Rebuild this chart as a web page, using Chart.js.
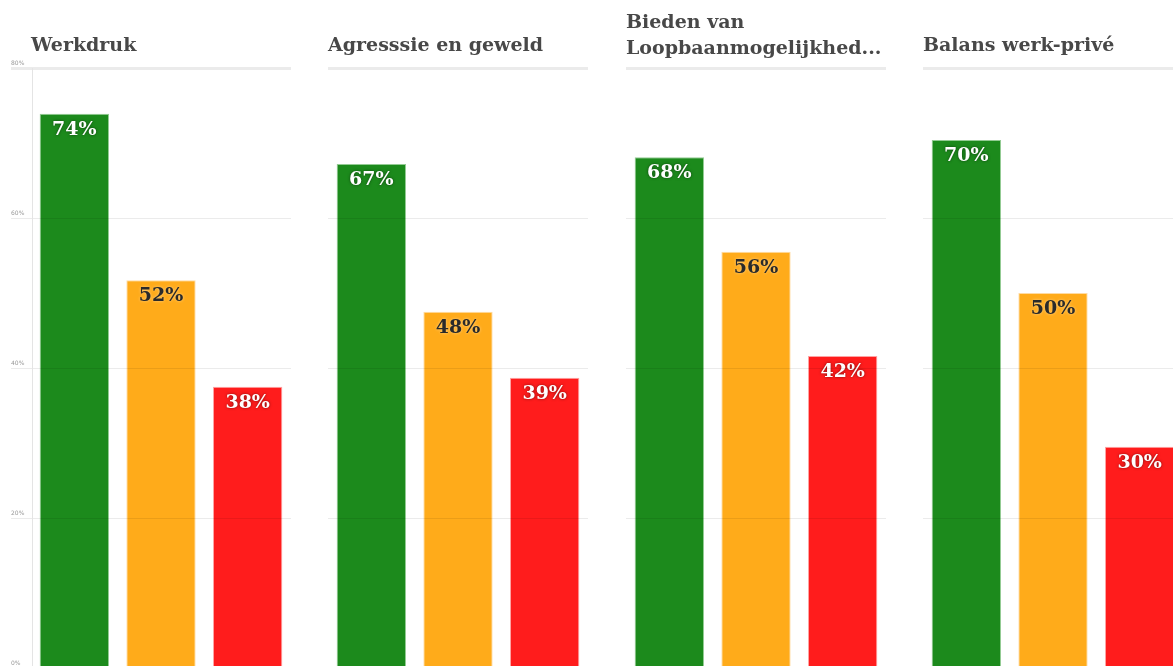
<!DOCTYPE html>
<html>
<head>
<meta charset="utf-8">
<script src="https://cdn.jsdelivr.net/npm/chart.js@4/dist/chart.umd.min.js"></script>
<style>
  html, body { margin: 0; padding: 0; background: #fff; overflow: hidden; }
  #wrap { position: relative; width: 1173px; height: 666px; overflow: hidden; }
  .panel { position: absolute; top: 0; width: 297px; height: 700px; }
  .panel canvas { position: absolute; left: 0; top: 0; }
  .title { position: absolute; left: 31px; bottom: 643px; font-family: "DejaVu Serif", serif; font-weight: bold;
           font-size: 19px; line-height: 26px; color: #484848; white-space: nowrap; }
  .title.two { bottom: 640px; }
</style>
</head>
<body>
<div id="wrap"></div>
<script>
var titles = ['Werkdruk', 'Agresssie en geweld', 'Bieden van\nLoopbaanmogelijkhed...', 'Balans werk-privé'];
var categories = ['Positief', 'Neutraal', 'Negatief'];
var werkdruk = [73.9, 51.7, 37.5];
var agressie = [67.2, 47.5, 38.7];
var loopbaan = [68.1, 55.5, 41.6];
var balans = [70.4, 50.0, 29.5];
var yTicks = [0, 20, 40, 60, 80];

var seriesList = [werkdruk, agressie, loopbaan, balans];
var barColors = ['#1c8a1c', '#ffab1a', '#ff1c1c'];
var barEdges = ['rgba(120,190,120,0.8)', 'rgba(255,210,140,0.8)', 'rgba(255,140,140,0.8)'];
var panelLeft = [0, 297, 595, 892];

// draws the "74%" style labels inside the top of each bar
var valueLabels = {
  id: 'valueLabels',
  afterDatasetsDraw: function(chart) {
    var ctx = chart.ctx;
    var meta = chart.getDatasetMeta(0);
    var data = chart.data.datasets[0].data;
    ctx.save();
    ctx.font = 'bold 19px "DejaVu Serif", serif';
    ctx.textAlign = 'center';
    ctx.textBaseline = 'middle';
    meta.data.forEach(function(bar, i) {
      if (i === 1) {
        ctx.fillStyle = '#2a2a2a';
        ctx.shadowColor = 'rgba(255,255,255,0.5)';
      } else {
        ctx.fillStyle = '#ffffff';
        ctx.shadowColor = 'rgba(0,0,0,0.55)';
      }
      ctx.shadowBlur = 3;
      ctx.fillText(Math.round(data[i]) + '%', bar.x, bar.y + 16);
    });
    ctx.restore();
  }
};

// thin vertical axis line on the first panel only
var axisLine = {
  id: 'axisLine',
  afterDraw: function(chart) {
    if (!chart.options.showAxisLine) return;
    var a = chart.chartArea;
    var ctx = chart.ctx;
    ctx.save();
    ctx.strokeStyle = '#e4e4e4';
    ctx.lineWidth = 1;
    ctx.beginPath();
    ctx.moveTo(a.left + 1.5, a.top);
    ctx.lineTo(a.left + 1.5, a.bottom);
    ctx.stroke();
    ctx.restore();
  }
};

function createPanel(index) {
  var wrap = document.getElementById('wrap');
  var div = document.createElement('div');
  div.className = 'panel';
  div.style.left = panelLeft[index] + 'px';
  var canvas = document.createElement('canvas');
  canvas.width = 297;
  canvas.height = 700;
  canvas.style.width = '297px';
  canvas.style.height = '700px';
  div.appendChild(canvas);
  var t = document.createElement('div');
  t.className = titles[index].indexOf('\n') >= 0 ? 'title two' : 'title';
  t.innerHTML = titles[index].replace('\n', '<br>');
  div.appendChild(t);
  wrap.appendChild(div);

  var first = index === 0;
  new Chart(canvas.getContext('2d'), {
    type: 'bar',
    data: {
      labels: categories,
      datasets: [{
        data: seriesList[index],
        backgroundColor: barColors,
        borderColor: barEdges,
        borderWidth: 1,
        barPercentage: 0.8,
        categoryPercentage: 1.0
      }]
    },
    options: {
      responsive: false,
      animation: false,
      showAxisLine: first,
      layout: { padding: { left: 11, right: 6, top: 68, bottom: 32 } },
      plugins: { legend: { display: false }, tooltip: { enabled: false } },
      scales: {
        x: { display: false },
        y: {
          min: 0,
          max: 80,
          afterFit: function(scale) { scale.width = 20; },
          afterBuildTicks: function(scale) {
            scale.ticks = yTicks.map(function(v) { return { value: v }; });
          },
          border: { display: false },
          grid: {
            z: 1,
            drawTicks: first,
            tickLength: 20,
            color: function(c) { return c.tick && c.tick.value === 80 ? '#ebebeb' : 'rgba(0,0,0,0.08)'; },
            lineWidth: function(c) { return c.tick && c.tick.value === 80 ? 3 : 1; }
          },
          ticks: {
            display: first,
            crossAlign: 'far',
            labelOffset: -5,
            color: '#999',
            font: { family: 'DejaVu Sans', size: 6 },
            callback: function(v) { return v + '%'; }
          }
        }
      }
    },
    plugins: [valueLabels, axisLine]
  });
}

for (var i = 0; i < 4; i++) createPanel(i);
</script>
</body>
</html>
